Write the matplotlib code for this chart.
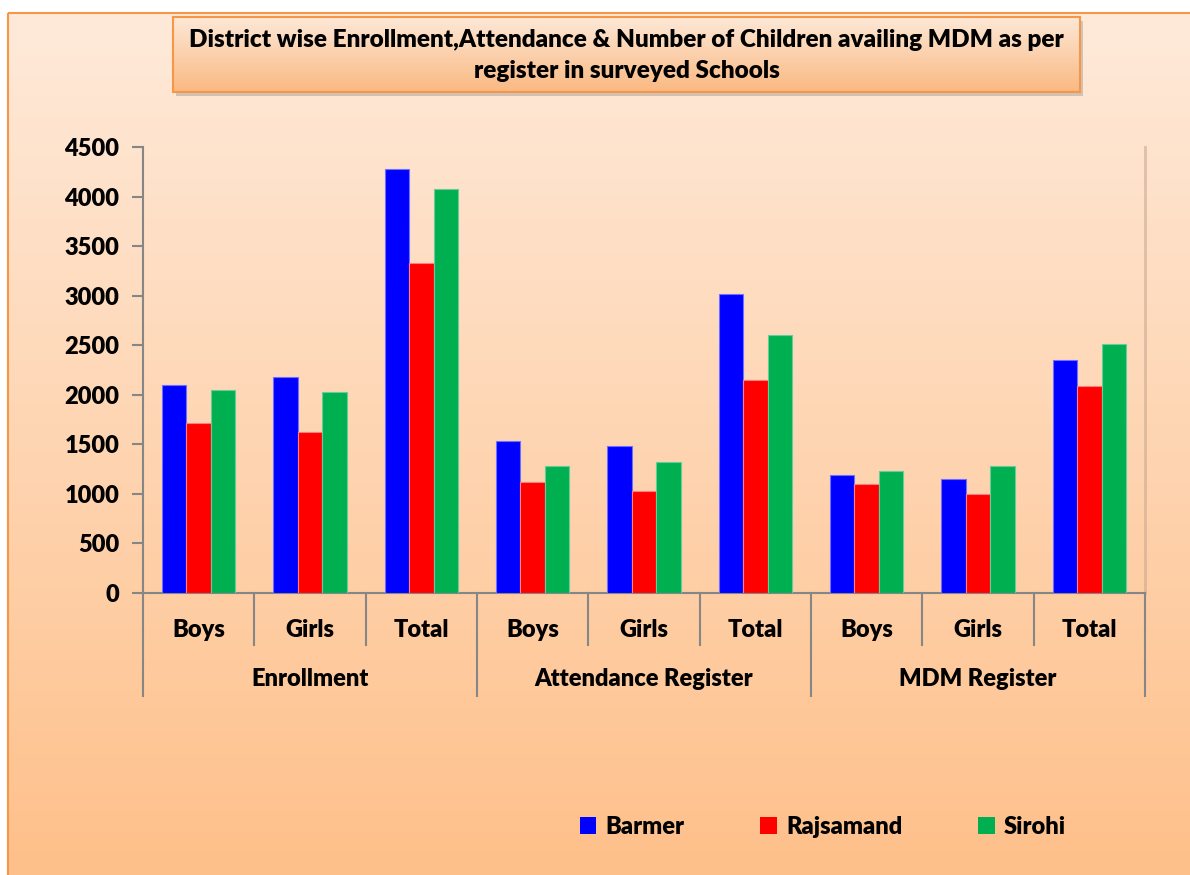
import numpy as np
import matplotlib
matplotlib.use("Agg")
import matplotlib.pyplot as plt
from matplotlib.patches import Rectangle, Patch
import matplotlib.transforms as mtransforms

plt.rcParams['font.family'] = ['Lato', 'DejaVu Sans']
plt.rcParams['font.weight'] = 'heavy'

# ---- data ----
groups = ["Enrollment", "Attendance Register", "MDM Register"]
subcats = ["Boys", "Girls", "Total"]
categories = subcats * len(groups)
series_names = ["Barmer", "Rajsamand", "Sirohi"]
barmer = [2100, 2178, 4278, 1535, 1485, 3020, 1190, 1155, 2350]
rajsamand = [1715, 1622, 3330, 1122, 1027, 2147, 1098, 997, 2092]
sirohi = [2047, 2024, 4075, 1277, 1320, 2600, 1232, 1277, 2511]
yticks = list(range(0, 4501, 500))
title = ("District wise Enrollment,Attendance & Number of Children availing MDM as per\n"
         "register in surveyed Schools")
colors = ["#0000FF", "#FF0000", "#00B050"]
edgecolors = ["#6F6FFF", "#FF7F7F", "#66CC99"]

FW = "heavy"
FS = 17

W, H = 1190, 875
fig = plt.figure(figsize=(W / 100, H / 100), dpi=100)
fig.patch.set_facecolor("white")

def fx(px):
    return px / W

def fy(py):
    return 1 - py / H

# ---- background gradient panel ----
bg = fig.add_axes([0, 0, 1, 1], zorder=0)
bg.set_xlim(0, W)
bg.set_ylim(H, 0)
bg.axis("off")
top_c = np.array([255, 234, 218]) / 255
bot_c = np.array([254, 192, 138]) / 255
t = np.linspace(0, 1, 256)[:, None]
grad = top_c[None, None, :] * (1 - t[..., None]) + bot_c[None, None, :] * t[..., None]
grad = np.repeat(grad, 2, axis=1)
bg.imshow(grad, extent=[8, W + 5, 875, 13], aspect="auto", zorder=0)
bg.add_patch(Rectangle((8, 13), W, 870, fill=False, edgecolor="#F79646", lw=1.5, zorder=2))

# ---- title box ----
tx0, tx1, ty0, ty1 = 173, 1080, 17, 92
bg.add_patch(Rectangle((tx0 + 3, ty0 + 4), tx1 - tx0, ty1 - ty0, facecolor="#7F7F7F",
                       alpha=0.35, edgecolor="none", zorder=3))
tb_top = np.array([253, 232, 215]) / 255
tb_bot = np.array([250, 185, 130]) / 255
tgrad = tb_top[None, None, :] * (1 - t[..., None]) + tb_bot[None, None, :] * t[..., None]
tgrad = np.repeat(tgrad, 2, axis=1)
bg.imshow(tgrad, extent=[tx0, tx1, ty1, ty0], aspect="auto", zorder=4)
bg.add_patch(Rectangle((tx0, ty0), tx1 - tx0, ty1 - ty0, fill=False,
                       edgecolor="#F79646", lw=1.5, zorder=5))
bg.text((tx0 + tx1) / 2, (ty0 + ty1) / 2 + 1, title, ha="center", va="center",
        fontsize=17.5, fontweight=FW, color="black", linespacing=1.55, zorder=6)
bg.set_xlim(0, W)
bg.set_ylim(H, 0)

# ---- main axes ----
L, R, T, B = 143, 1145, 147, 593
ax = fig.add_axes([fx(L), fy(B), fx(R) - fx(L), fy(T) - fy(B)], zorder=1)
ax.patch.set_alpha(0)

x = np.arange(len(categories))
bw = 0.22
for i, (vals, c, ec, name) in enumerate(zip([barmer, rajsamand, sirohi], colors, edgecolors, series_names)):
    ax.bar(x + (i - 1) * bw, vals, width=bw, color=c, edgecolor=ec, linewidth=0.8,
           label=name, zorder=3)

ax.set_xlim(-0.5, len(categories) - 0.5)
ax.set_ylim(0, 4500)
ax.set_yticks(yticks)
ax.set_yticklabels([str(v) for v in yticks], fontsize=FS, fontweight=FW)
ax.tick_params(axis="y", direction="out", length=8, width=1.5, color="#868686", pad=9)
ax.set_xticks(x)
ax.set_xticklabels(categories, fontsize=FS, fontweight=FW)
ax.tick_params(axis="x", length=0, pad=19)

for s in ["top", "right"]:
    ax.spines[s].set_visible(False)
ax.spines["left"].set_color("#868686")
ax.spines["left"].set_linewidth(1.5)
ax.spines["bottom"].set_color("#868686")
ax.spines["bottom"].set_linewidth(1.5)

# right-side shadow of plot area
ax.plot([len(categories) - 0.5] * 2, [0, 4500], color="#C8A890", lw=2, alpha=0.6,
        zorder=1, clip_on=False)

trans = mtransforms.blended_transform_factory(ax.transData, ax.transAxes)
px_per_axes = (B - T)
sub_len = (645 - B) / px_per_axes
grp_len = (696 - B) / px_per_axes
n_sub = len(subcats)
for k in range(len(categories) + 1):
    xb = k - 0.5
    ln = grp_len if k % n_sub == 0 else sub_len
    ax.plot([xb, xb], [0, -ln], color="#868686", lw=1.5, transform=trans, clip_on=False)

for g, name in enumerate(groups):
    xc = g * n_sub + (n_sub - 1) / 2
    ax.text(xc, -(679 - B) / px_per_axes, name, transform=trans, ha="center", va="center",
            fontsize=FS, fontweight=FW)

# ---- legend ----
handles = [Patch(facecolor=c, edgecolor="none") for c in colors]
fig.legend(handles, series_names, loc="center", bbox_to_anchor=(fx(823), fy(827)),
           ncol=3, frameon=False, handlelength=0.7, handleheight=0.7,
           handletextpad=0.4, columnspacing=3.2, prop={"weight": FW, "size": FS})

fig.savefig("out.png", dpi=100)
